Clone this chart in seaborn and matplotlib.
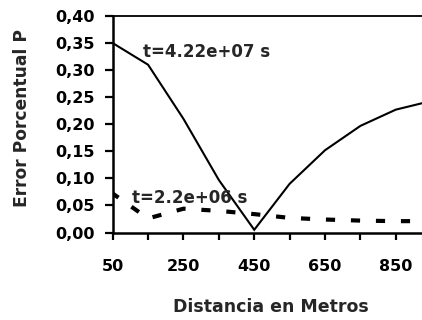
import matplotlib
matplotlib.use("Agg")
import matplotlib.pyplot as plt
import seaborn as sns
import pandas as pd

# Distance along the domain (m) and percentage error P for two times
distance = [50, 150, 250, 350, 450, 550, 650, 750, 850, 950]
err_long = [0.350, 0.310, 0.210, 0.097, 0.005, 0.090, 0.152, 0.197, 0.227, 0.243]
err_short = [0.072, 0.026, 0.044, 0.040, 0.034, 0.027, 0.024, 0.022, 0.021, 0.021]

label_long = "t=4.22e+07 s"
label_short = "t=2.2e+06 s"

x_major = [50, 250, 450, 650, 850]
x_minor = [150, 350, 550, 750]
x_tick_labels = ["50", "250", "450", "650", "850"]
y_ticks = [0.00, 0.05, 0.10, 0.15, 0.20, 0.25, 0.30, 0.35, 0.40]
y_tick_labels = ["0,00", "0,05", "0,10", "0,15", "0,20", "0,25", "0,30", "0,35", "0,40"]

sns.set_theme(style="ticks")
plt.rcParams["font.family"] = ["DejaVu Sans"]
plt.rcParams["font.weight"] = "bold"

df = pd.DataFrame({"dist": distance, "long": err_long, "short": err_short})

fig = plt.figure(figsize=(4.22, 3.20), dpi=100)
ax = fig.add_axes([0.267, 0.2734, 0.733, 0.6766])

sns.lineplot(data=df, x="dist", y="long", ax=ax, color="black", linewidth=1.5,
             solid_joinstyle="miter")
sns.lineplot(data=df, x="dist", y="short", ax=ax, color="black", linewidth=3.0,
             linestyle=(0.5, (2.2, 3.8)), dash_capstyle="butt")

ax.set_xlim(50, 924)
ax.set_ylim(0, 0.40)

ax.set_xticks(x_major)
ax.set_xticklabels(x_tick_labels, fontsize=11.5, fontweight="bold")
ax.set_xticks(x_minor, minor=True)
ax.set_yticks(y_ticks)
ax.set_yticklabels(y_tick_labels, fontsize=11.5, fontweight="bold")

ax.tick_params(axis="x", which="both", direction="out", length=5, width=1.6,
               pad=14, colors="black")
ax.tick_params(axis="y", which="both", direction="out", length=6, width=1.6,
               pad=7, colors="black")

for side in ["left", "bottom"]:
    ax.spines[side].set_linewidth(1.8)
    ax.spines[side].set_color("black")
ax.spines["top"].set_linewidth(1.3)
ax.spines["top"].set_color("black")
ax.spines["right"].set_visible(False)

ax.set_xlabel("Distancia en Metros", fontsize=12.5, fontweight="bold", va="center")
ax.set_ylabel("Error Porcentual P", fontsize=12.3, fontweight="bold", va="center")
ax.xaxis.set_label_coords(0.513, -0.342)
ax.yaxis.set_label_coords(-0.293, 0.527)

ax.text(136, 0.334, label_long, fontsize=12, fontweight="bold", ha="left", va="center")
ax.text(104, 0.063, label_short, fontsize=12, fontweight="bold", ha="left", va="center")

fig.savefig("out.png", dpi=100, facecolor="white")
